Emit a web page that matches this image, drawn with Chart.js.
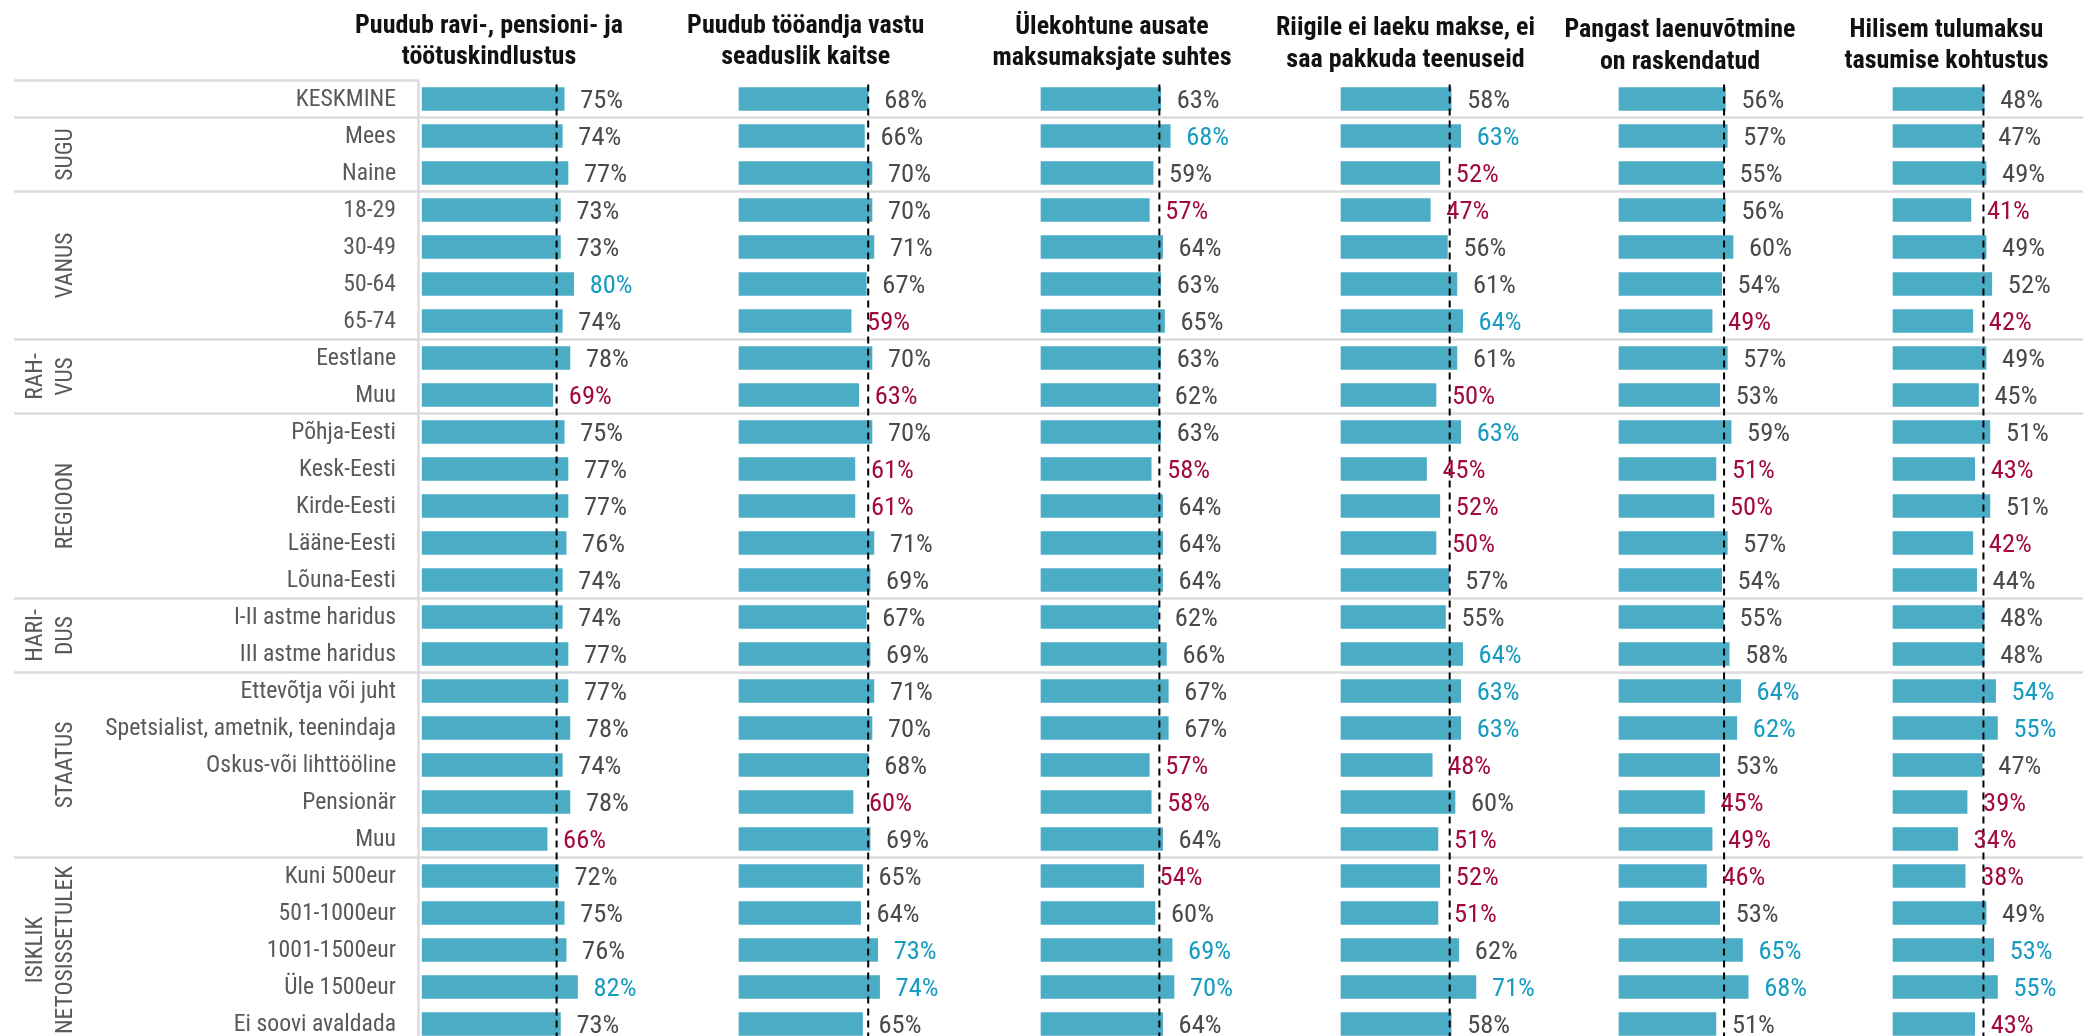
<!DOCTYPE html>
<html>
<head>
<meta charset="utf-8">
<script src="https://cdn.jsdelivr.net/npm/chart.js@4.4.1/dist/chart.umd.min.js"></script>
<style>
html, body { margin: 0; padding: 0; background: #fff; overflow: hidden; }
#wrap { position: absolute; left: 0; top: 0; width: 2083px; height: 1044px; }
</style>
</head>
<body>
<div id="wrap"><canvas id="chart"></canvas></div>
<script>
const rowLabels = ['KESKMINE', 'Mees', 'Naine', '18-29', '30-49', '50-64', '65-74', 'Eestlane', 'Muu',
  'Põhja-Eesti', 'Kesk-Eesti', 'Kirde-Eesti', 'Lääne-Eesti', 'Lõuna-Eesti', 'I-II astme haridus',
  'III astme haridus', 'Ettevõtja või juht', 'Spetsialist, ametnik, teenindaja', 'Oskus-või lihttööline',
  'Pensionär', 'Muu', 'Kuni 500eur', '501-1000eur', '1001-1500eur', 'Üle 1500eur', 'Ei soovi avaldada'];

const groupNames = [['SUGU'], ['VANUS'], ['RAH-', 'VUS'], ['REGIOON'], ['HARI-', 'DUS'], ['STAATUS'], ['ISIKLIK', 'NETOSISSETULEK']];
const groupFirst = [1, 3, 7, 9, 14, 16, 21];
const groupLast = [2, 6, 8, 13, 15, 20, 25];

const panelTitles = [
  ['Puudub ravi-, pensioni- ja', 'töötuskindlustus'],
  ['Puudub tööandja vastu', 'seaduslik kaitse'],
  ['Ülekohtune ausate', 'maksumaksjate suhtes'],
  ['Riigile ei laeku makse, ei', 'saa pakkuda teenuseid'],
  ['Pangast laenuvõtmine', 'on raskendatud'],
  ['Hilisem tulumaksu', 'tasumise kohtustus']
];

const ravi = [75, 74, 77, 73, 73, 80, 74, 78, 69, 75, 77, 77, 76, 74, 74, 77, 77, 78, 74, 78, 66, 72, 75, 76, 82, 73];
const tooandja = [68, 66, 70, 70, 71, 67, 59, 70, 63, 70, 61, 61, 71, 69, 67, 69, 71, 70, 68, 60, 69, 65, 64, 73, 74, 65];
const ulekohtune = [63, 68, 59, 57, 64, 63, 65, 63, 62, 63, 58, 64, 64, 64, 62, 66, 67, 67, 57, 58, 64, 54, 60, 69, 70, 64];
const riigile = [58, 63, 52, 47, 56, 61, 64, 61, 50, 63, 45, 52, 50, 57, 55, 64, 63, 63, 48, 60, 51, 52, 51, 62, 71, 58];
const pangast = [56, 57, 55, 56, 60, 54, 49, 57, 53, 59, 51, 50, 57, 54, 55, 58, 64, 62, 53, 45, 49, 46, 53, 65, 68, 51];
const hilisem = [48, 47, 49, 41, 49, 52, 42, 49, 45, 51, 43, 51, 42, 44, 48, 48, 54, 55, 47, 39, 34, 38, 49, 53, 55, 43];

// 1 = higher than average, -1 = lower, 0 = no difference
const sigRavi = [0, 0, 0, 0, 0, 1, 0, 0, -1, 0, 0, 0, 0, 0, 0, 0, 0, 0, 0, 0, -1, 0, 0, 0, 1, 0];
const sigTooandja = [0, 0, 0, 0, 0, 0, -1, 0, -1, 0, -1, -1, 0, 0, 0, 0, 0, 0, 0, -1, 0, 0, 0, 1, 1, 0];
const sigUlekohtune = [0, 1, 0, -1, 0, 0, 0, 0, 0, 0, -1, 0, 0, 0, 0, 0, 0, 0, -1, -1, 0, -1, 0, 1, 1, 0];
const sigRiigile = [0, 1, -1, -1, 0, 0, 1, 0, -1, 1, -1, -1, -1, 0, 0, 1, 1, 1, -1, 0, -1, -1, -1, 0, 1, 0];
const sigPangast = [0, 0, 0, 0, 0, 0, -1, 0, 0, 0, -1, -1, 0, 0, 0, 0, 1, 1, 0, -1, -1, -1, 0, 1, 1, 0];
const sigHilisem = [0, 0, 0, -1, 0, 0, -1, 0, 0, 0, -1, 0, -1, 0, 0, 0, 1, 1, 0, -1, -1, -1, 0, 1, 1, -1];

// dashed reference line of each panel
const avgLine = [71, 68, 62.3, 57.2, 55.3, 47.6];

const series = [ravi, tooandja, ulekohtune, riigile, pangast, hilisem];
const signif = [sigRavi, sigTooandja, sigUlekohtune, sigRiigile, sigPangast, sigHilisem];

// layout
const W = 2083;
const panelLeft = [421.7, 739, 1041, 1341, 1619, 1893];
const titleCenter = [489, 805.7, 1112, 1405.5, 1680, 1946.5];
const titleBase = [32.5, 32.5, 33.5, 35, 37, 36.5];
const PX_PER_PCT = 1.9;
const TOP = 80.5;
const LABEL_RIGHT = 396;
const BAR = '#4BACC6', BLUE = '#179BC0', RED = '#A20A3F', GREY = '#4A4A4A', LABEL = '#595959', LINE = '#DCDCDC';

function hasFont(name) {
  const c = document.createElement('canvas').getContext('2d');
  const s = 'abcdefghijklmnopqrstuvwxyz0123456789';
  c.font = '40px monospace';
  const a = c.measureText(s).width;
  c.font = '40px "' + name + '", monospace';
  return c.measureText(s).width !== a;
}
const condensed = hasFont('Roboto Condensed');
const FAMILY = condensed ? '"Roboto Condensed"' : 'Roboto';
const SQUEEZE = condensed ? 1 : 0.87;

function text(ctx, s, x, y, font, color, align, rot) {
  ctx.save();
  ctx.font = font;
  ctx.fillStyle = color;
  ctx.textAlign = align;
  ctx.textBaseline = 'alphabetic';
  ctx.translate(x, y);
  if (rot) ctx.rotate(rot);
  ctx.scale(SQUEEZE, 1);
  ctx.fillText(s, 0, 0);
  ctx.restore();
}

const decor = {
  id: 'decor',
  beforeDatasetsDraw(chart) {
    const ctx = chart.ctx, a = chart.chartArea, y = chart.scales.y;
    ctx.save();
    ctx.strokeStyle = LINE;
    ctx.lineWidth = 2.5;
    ctx.beginPath();
    ctx.moveTo(14, a.top); ctx.lineTo(418.5, a.top);
    ctx.moveTo(418.5, a.top); ctx.lineTo(418.5, chart.height);
    groupFirst.forEach(r => {
      const yy = (y.getPixelForValue(r - 1) + y.getPixelForValue(r)) / 2;
      ctx.moveTo(14, yy); ctx.lineTo(W, yy);
    });
    ctx.stroke();
    ctx.restore();
  },
  afterDatasetsDraw(chart) {
    const ctx = chart.ctx, a = chart.chartArea, y = chart.scales.y;
    // dashed reference lines
    ctx.save();
    ctx.strokeStyle = '#000';
    ctx.lineWidth = 2;
    ctx.setLineDash([7, 5]);
    avgLine.forEach((v, d) => {
      const x = chart.scales['x' + d].getPixelForValue(v);
      ctx.beginPath();
      ctx.moveTo(x, a.top + 4);
      ctx.lineTo(x, a.bottom);
      ctx.stroke();
    });
    ctx.restore();
    // value labels
    series.forEach((vals, d) => {
      const meta = chart.getDatasetMeta(d);
      vals.forEach((v, i) => {
        const bar = meta.data[i];
        const s = signif[d][i];
        text(ctx, v + '%', bar.x + 16, bar.y + 9.3, '26.5px ' + FAMILY, s > 0 ? BLUE : s < 0 ? RED : GREY, 'left');
      });
    });
    // row labels
    rowLabels.forEach((lab, i) => {
      text(ctx, lab, LABEL_RIGHT, y.getPixelForValue(i) + 6.7, '23.7px ' + FAMILY, LABEL, 'right');
    });
    // group labels
    groupNames.forEach((lines, g) => {
      const cy = (y.getPixelForValue(groupFirst[g]) + y.getPixelForValue(groupLast[g])) / 2;
      const xs = lines.length === 1 ? [63.3] : [33.3, 63.3];
      lines.forEach((l, k) => text(ctx, l, xs[k] + 8.4, cy, '23.5px ' + FAMILY, LABEL, 'center', -Math.PI / 2));
    });
    // titles
    panelTitles.forEach((lines, d) => {
      lines.forEach((l, k) => text(ctx, l, titleCenter[d], titleBase[d] + k * 31.5, 'bold 26px ' + FAMILY, '#111', 'center'));
    });
  }
};

const areaW = W - panelLeft[0];
const scales = { y: { type: 'category', labels: rowLabels, display: false, offset: true } };
panelLeft.forEach((L, i) => {
  const min = -(L - panelLeft[0]) / PX_PER_PCT;
  scales['x' + i] = { type: 'linear', display: false, min: min, max: min + areaW / PX_PER_PCT, grid: { display: false } };
});

const datasets = series.map((vals, i) => ({
  data: vals,
  xAxisID: 'x' + i,
  yAxisID: 'y',
  backgroundColor: BAR,
  borderWidth: 0,
  barThickness: 23,
  grouped: false
}));

const chart = new Chart(document.getElementById('chart'), {
  type: 'bar',
  data: { labels: rowLabels, datasets },
  options: {
    indexAxis: 'y',
    responsive: true,
    maintainAspectRatio: false,
    animation: false,
    devicePixelRatio: 1,
    layout: { padding: { left: panelLeft[0], right: 0, top: TOP, bottom: 1.5 } },
    scales,
    plugins: { legend: { display: false }, tooltip: { enabled: false } }
  },
  plugins: [decor]
});
</script>
</body>
</html>
